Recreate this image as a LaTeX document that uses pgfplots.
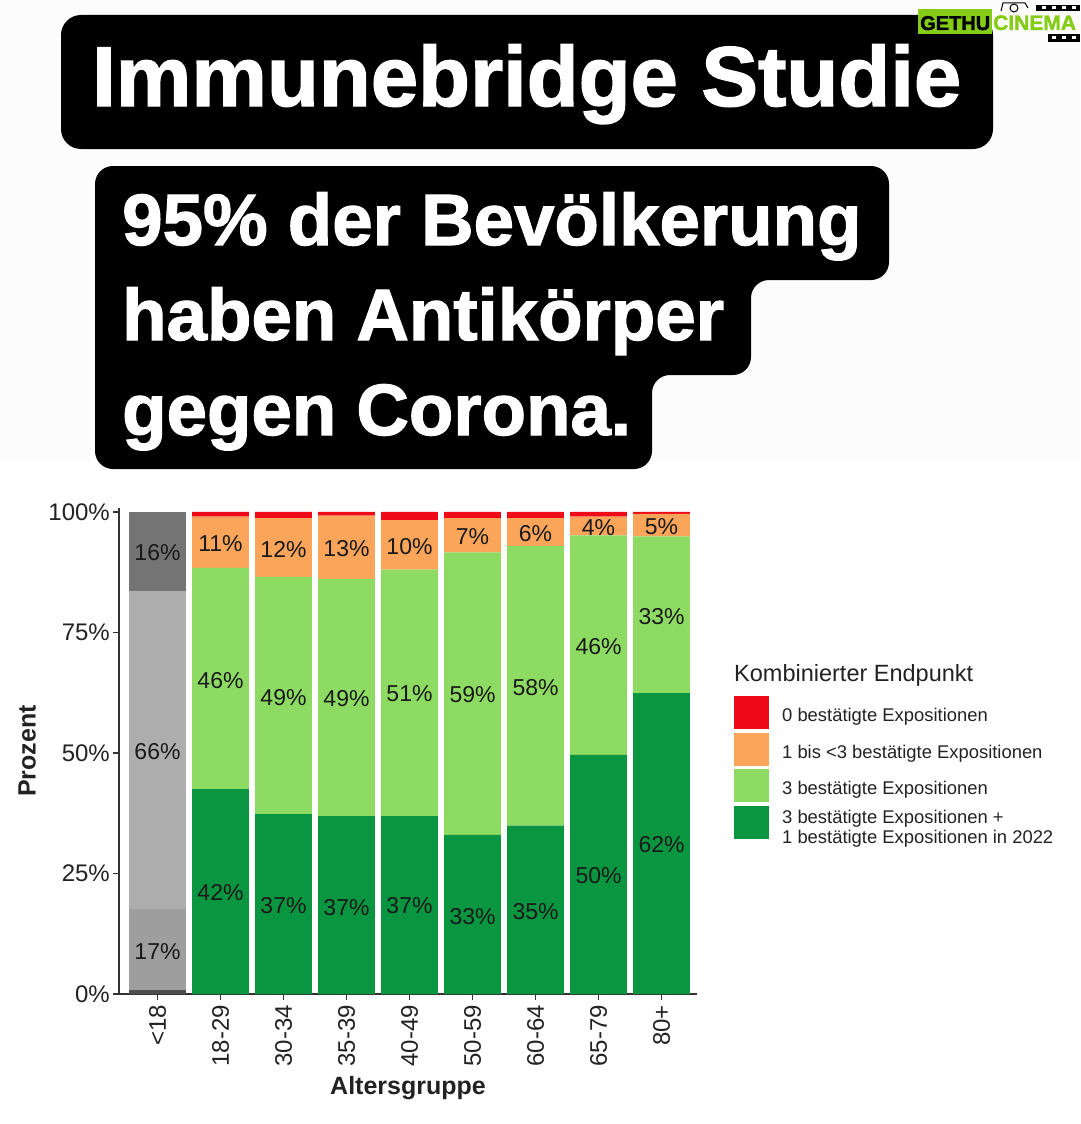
\documentclass[border=0pt]{standalone}
\usepackage{fontspec}
\setmainfont{Liberation Sans}
\newfontfamily\titelfont[BoldFeatures={FakeBold=1.6}]{Liberation Sans}
\usepackage{pgfplots}
\usepackage{pgfplotstable}
\pgfplotsset{compat=1.18}

\definecolor{rot}{HTML}{EE0A17}
\definecolor{orange1}{HTML}{FBA55B}
\definecolor{hellgruen}{HTML}{8EDB63}
\definecolor{dunkelgruen}{HTML}{0A9640}
\definecolor{grauA}{HTML}{4D4D4D}
\definecolor{grauB}{HTML}{9E9E9E}
\definecolor{grauC}{HTML}{ADADAD}
\definecolor{grauD}{HTML}{747474}
\definecolor{achse}{HTML}{333333}
\definecolor{hinter}{HTML}{FDFCFC}
\definecolor{logogruen}{HTML}{84CC16}
\definecolor{schrift}{HTML}{222222}

% stacked shares in percent
\pgfplotstableread{
x  ga  gb    gc   gd   dg    lg    og    rd
0  0.8 16.8  66.0 16.4 0     0     0     0
1  0   0     0    0    42.5  45.9  10.6  1.0
2  0   0     0    0    37.3  49.2  12.2  1.3
3  0   0     0    0    36.9  49.2  13.1  0.8
4  0   0     0    0    36.9  51.1  10.3  1.7
5  0   0     0    0    33.0  58.6  7.1   1.3
6  0   0     0    0    34.9  58.0  5.8   1.3
7  0   0     0    0    49.6  45.5  3.9   1.0
8  0   0     0    0    62.4  32.5  4.7   0.4
}\anteile

\begin{document}
\begin{tikzpicture}
\path[use as bounding box] (0pt,0pt) rectangle (1080pt,-1124pt);
\begin{scope}[x=1pt,y=-1pt]
  \fill[hinter] (0,0) rectangle (1080,460);
  % title blocks
  \fill[black,rounded corners=20pt] (61,15) -- (993,15) -- (993,149) -- (61,149) -- cycle;
  \fill[black,rounded corners=18pt] (95,166) -- (889,166) -- (889,280) -- (751,280) -- (751,375) -- (652,375) -- (652,469) -- (95,469) -- cycle;
  \node[white,anchor=base west,inner sep=0,font=\fontsize{85}{85}\selectfont\titelfont\bfseries] at (92,106) {Immunebridge Studie};
  \node[white,anchor=base west,inner sep=0,font=\fontsize{72.7}{72.7}\selectfont\titelfont\bfseries] at (122,245) {95\% der Bevölkerung};
  \node[white,anchor=base west,inner sep=0,font=\fontsize{72.7}{72.7}\selectfont\titelfont\bfseries] at (122,340) {haben Antikörper};
  \node[white,anchor=base west,inner sep=0,font=\fontsize{72.7}{72.7}\selectfont\titelfont\bfseries] at (122,435) {gegen Corona.};
  % watermark
  \fill[logogruen] (918,9) rectangle (992,34);
  \fill[black] (1036,5) rectangle (1080,11);
  \fill[black] (1048,34) rectangle (1080,42);
  \foreach \i in {1042,1052,1062,1072} {\fill[white] (\i,6.5) rectangle (\i+4,9.5);}
  \foreach \i in {1052,1062,1072} {\fill[white] (\i,36.5) rectangle (\i+4,39.5);}
  \draw[black,line width=1pt] (1001,11) -- (1003,3) -- (1025,3) -- (1028,8);
  \draw[black,line width=1pt] (1014,8) circle (4);
  \node[black,anchor=base west,inner sep=0,font=\fontsize{20}{20}\selectfont\titelfont\bfseries] at (920,30) {GETHU};
  \node[logogruen,anchor=base west,inner sep=0,font=\fontsize{21}{21}\selectfont\titelfont\bfseries] at (993,30) {CINEMA};
  \node[schrift,anchor=base west,inner sep=0,font=\fontsize{23.5}{23.5}\selectfont] at (734,681) {Kombinierter Endpunkt};
\end{scope}

\begin{axis}[
    at={(119pt,-994pt)}, anchor=south west,
    scale only axis, width=578pt, height=486pt,
    ybar stacked, bar width=56.7pt,
    xmin=-0.611, xmax=8.563, ymin=0, ymax=100.8,
    axis lines=left,
    axis line style={-,draw=achse,line width=1.8pt},
    tick style={draw=achse,line width=1.5pt},
    tick align=outside, major tick length=6pt,
    tick label style={text=schrift},
    xtick={0,...,8},
    xticklabels={<18,18-29,30-34,35-39,40-49,50-59,60-64,65-79,80+},
    x tick label style={rotate=90,anchor=east,font=\fontsize{24}{24}\selectfont,inner sep=0pt,xshift=-5pt},
    ytick={0,25,50,75,100},
    yticklabels={0\%,25\%,50\%,75\%,100\%},
    y tick label style={font=\fontsize{24}{24}\selectfont,inner sep=0pt,xshift=-3pt},
    xlabel={Altersgruppe}, ylabel={Prozent},
    xlabel style={at={(axis description cs:0.5,-0.193)},anchor=center,font=\fontsize{25}{25}\selectfont\bfseries,text=schrift},
    ylabel style={at={(axis description cs:-0.159,0.5)},anchor=center,font=\fontsize{25}{25}\selectfont\bfseries,text=schrift},
    reverse legend,
    legend style={at={(axis description cs:1.064,0.613)},anchor=north west,draw=none,fill=none,
      font=\fontsize{18.4}{20}\selectfont,text=schrift,inner sep=0pt,row sep=3.5pt,
      nodes={inner sep=0pt}},
    legend cell align=left,
    legend image code/.code={\fill[#1] (0pt,-13.5pt) rectangle (35pt,19.5pt); \path (48pt,0pt);},
]
\addplot[fill=grauA,draw=none,forget plot] table[x=x,y=ga] {\anteile};
\addplot[fill=grauB,draw=none,forget plot] table[x=x,y=gb] {\anteile};
\addplot[fill=grauC,draw=none,forget plot] table[x=x,y=gc] {\anteile};
\addplot[fill=grauD,draw=none,forget plot] table[x=x,y=gd] {\anteile};
\addplot[fill=dunkelgruen,draw=none] table[x=x,y=dg] {\anteile};
\addplot[fill=hellgruen,draw=none] table[x=x,y=lg] {\anteile};
\addplot[fill=orange1,draw=none] table[x=x,y=og] {\anteile};
\addplot[fill=rot,draw=none] table[x=x,y=rd] {\anteile};
\addlegendentry{\raisebox{5pt}{\begin{tabular}[c]{@{}l@{}}3 bestätigte Expositionen +\\1 bestätigte Expositionen in 2022\end{tabular}}}
\addlegendentry{3 bestätigte Expositionen}
\addlegendentry{1 bis <3 bestätigte Expositionen}
\addlegendentry{0 bestätigte Expositionen}
\end{axis}

% percent labels on a second axis with the same frame, not stacked
\begin{axis}[
    at={(119pt,-994pt)}, anchor=south west,
    scale only axis, width=578pt, height=486pt,
    xmin=-0.611, xmax=8.563, ymin=0, ymax=100.8,
    hide axis, clip=false,
]
\addplot[draw=none,mark=none,
    point meta=explicit symbolic,
    nodes near coords={\pgfplotspointmeta\%},
    nodes near coords style={anchor=center,inner sep=0pt,font=\fontsize{23}{23}\selectfont,text=black!90},
  ] table[x=x,y=y,meta=w] {
x y w
0 91.5 16
0 50.2 66
0 8.9 17
1 93.4 11
1 65.1 46
1 21.0 42
2 92.1 12
2 61.4 49
2 18.3 37
3 92.3 13
3 61.2 49
3 18.0 37
4 92.9 10
4 62.2 51
4 18.3 37
5 94.8 7
5 62.0 59
5 16.0 33
6 95.4 6
6 63.5 58
6 17.0 35
7 96.7 4
7 72.0 46
7 24.5 50
8 97.0 5
8 78.2 33
8 30.9 62
};
\end{axis}
\end{tikzpicture}
\end{document}
